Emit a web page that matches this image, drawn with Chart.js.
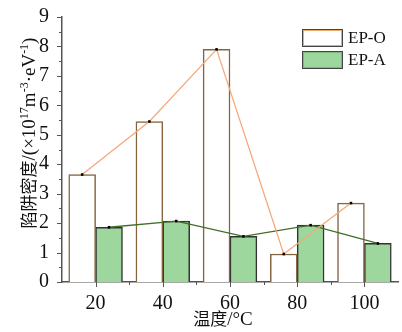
<!DOCTYPE html>
<html><head><meta charset="utf-8">
<script src="https://cdn.jsdelivr.net/npm/chart.js@4"></script>
<style>html,body{margin:0;padding:0;background:#fff}#wrap{width:402px;height:332px}</style>
</head>
<body><div id="wrap"><canvas id="c" width="402" height="332"></canvas></div>
<script>
const categories = ['20', '40', '60', '80', '100'];
const seriesNames = ['EP-O', 'EP-A'];
const epO = [3.65, 5.45, 7.9, 0.95, 2.68];
const epA = [1.86, 2.07, 1.55, 1.93, 1.31];
const yMin = 0, yMax = 9, yStep = 1, yMinorStep = 0.5;
const xTitle = [['温度', 'cjk'], ['/°C', 'serif']];
const yTitle = [['陷阱密度', 'cjk'], ['/(×10', 'serif'], ['17', 'sup'], ['m', 'serif'], ['-3', 'sup'], ['·eV', 'serif'], ['-1', 'sup'], [')', 'serif']];

const SERIF = "'Liberation Serif','Times New Roman',serif";
const CJK = "'Noto Sans CJK SC',sans-serif";
const barOffset = 0.2; // each bar takes 0.4 of a category; group centred on the category

function fontFor(kind) {
  if (kind === 'cjk') return '17px ' + CJK;
  if (kind === 'sup') return '12px ' + SERIF;
  return '19px ' + SERIF;
}
function drawRich(ctx, parts, cx, cy) {
  let w = 0;
  parts.forEach(p => { ctx.font = fontFor(p[1]); w += ctx.measureText(p[0]).width; });
  let x = cx - w / 2;
  ctx.textBaseline = 'alphabetic'; ctx.textAlign = 'left';
  parts.forEach(p => {
    ctx.font = fontFor(p[1]);
    const dy = p[1] === 'sup' ? -7 : 0;
    ctx.fillText(p[0], x, cy + 6 + dy);
    x += ctx.measureText(p[0]).width;
  });
}

const decoPlugin = {
  id: 'deco',
  afterDraw(chart) {
    const ctx = chart.ctx, x = chart.scales.x, y = chart.scales.y;
    ctx.save();
    ctx.strokeStyle = '#555'; ctx.lineWidth = 1;
    const ax = chart.chartArea.left, ay = chart.chartArea.bottom;
    for (let v = yMin; v <= yMax + 1e-9; v += yMinorStep) {
      const py = Math.round(y.getPixelForValue(v)) + 0.5;
      const major = Math.abs(v - Math.round(v)) < 1e-9;
      ctx.beginPath(); ctx.moveTo(ax, py); ctx.lineTo(ax - (major ? 5 : 3), py); ctx.stroke();
    }
    categories.forEach((c, i) => {
      const px = Math.round(x.getPixelForValue(i)) + 0.5;
      ctx.beginPath(); ctx.moveTo(px, ay); ctx.lineTo(px, ay + 5); ctx.stroke();
      if (i > 0) {
        const bx = Math.round(x.getPixelForValue(i - 0.5)) + 0.5;
        ctx.beginPath(); ctx.moveTo(bx, ay); ctx.lineTo(bx, ay + 3); ctx.stroke();
      }
    });
    // legend
    const lx = 302, ly = 29, bw = 41, bh = 18, gap = 4;
    const fills = ['#ffffff', '#9dd79d'];
    const inner = ['#f0a868', '#7ab87a'];
    seriesNames.forEach((n, i) => {
      const top = ly + i * (bh + gap);
      ctx.fillStyle = fills[i]; ctx.fillRect(lx, top, bw, bh);
      ctx.strokeStyle = inner[i]; ctx.lineWidth = 1;
      ctx.strokeRect(lx + 1.5, top + 1.5, bw - 3, bh - 3);
      ctx.strokeStyle = '#444'; ctx.lineWidth = 1;
      ctx.strokeRect(lx + 0.5, top + 0.5, bw - 1, bh - 1);
      ctx.fillStyle = '#111'; ctx.font = '17px ' + SERIF;
      ctx.textBaseline = 'middle'; ctx.textAlign = 'left';
      ctx.fillText(n, lx + bw + 5, top + bh / 2 + 1);
    });
    // axis titles
    ctx.fillStyle = '#111';
    drawRich(ctx, xTitle, 223, 319);
    ctx.save();
    ctx.translate(29, 133);
    ctx.rotate(-Math.PI / 2);
    drawRich(ctx, yTitle, 0, 0);
    ctx.restore();
    ctx.restore();
  }
};

const barCommon = { type: 'bar', grouped: false, categoryPercentage: 1.0, barPercentage: 1.0, borderWidth: 1.5, order: 2 };
const lineCommon = { type: 'line', borderWidth: 1.3, pointStyle: 'rect', pointRadius: 1.8,
  pointBackgroundColor: '#000', pointBorderColor: '#000', pointBorderWidth: 0, tension: 0, order: 1 };

new Chart(document.getElementById('c'), {
  data: {
    datasets: [
      Object.assign({}, barCommon, { label: seriesNames[0], data: epO.map((v, i) => ({ x: i - barOffset, y: v })),
        backgroundColor: '#ffffff', borderColor: '#86643e' }),
      Object.assign({}, barCommon, { label: seriesNames[1], data: epA.map((v, i) => ({ x: i + barOffset, y: v })),
        backgroundColor: '#9dd79d', borderColor: '#333' }),
      Object.assign({}, lineCommon, { label: seriesNames[0] + ' line', data: epO.map((v, i) => ({ x: i - barOffset, y: v })),
        borderColor: '#f5a878' }),
      Object.assign({}, lineCommon, { label: seriesNames[1] + ' line', data: epA.map((v, i) => ({ x: i + barOffset, y: v })),
        borderColor: '#3f6e26' })
    ]
  },
  options: {
    responsive: false, animation: false, devicePixelRatio: 1,
    layout: { padding: { top: 16, right: 1, left: 0, bottom: 0 } },
    plugins: { legend: { display: false }, tooltip: { enabled: false } },
    scales: {
      x: {
        type: 'linear', min: -0.5, max: categories.length - 0.5, offset: false,
        grid: { display: false },
        border: { display: true, color: '#555', width: 1.5 },
        afterBuildTicks(s) { s.ticks = categories.map((c, i) => ({ value: i })); },
        ticks: { color: '#111', font: { family: SERIF, size: 20 }, padding: 2,
          callback: (v) => categories[Math.round(v)] },
        afterFit(s) { s.height = 50; }
      },
      y: {
        min: yMin, max: yMax,
        grid: { display: false },
        border: { display: true, color: '#555', width: 1.5 },
        ticks: { stepSize: yStep, color: '#111', font: { family: SERIF, size: 20 }, padding: 5 },
        afterFit(s) { s.width = 62; }
      }
    }
  },
  plugins: [decoPlugin]
});
</script>
</body></html>
